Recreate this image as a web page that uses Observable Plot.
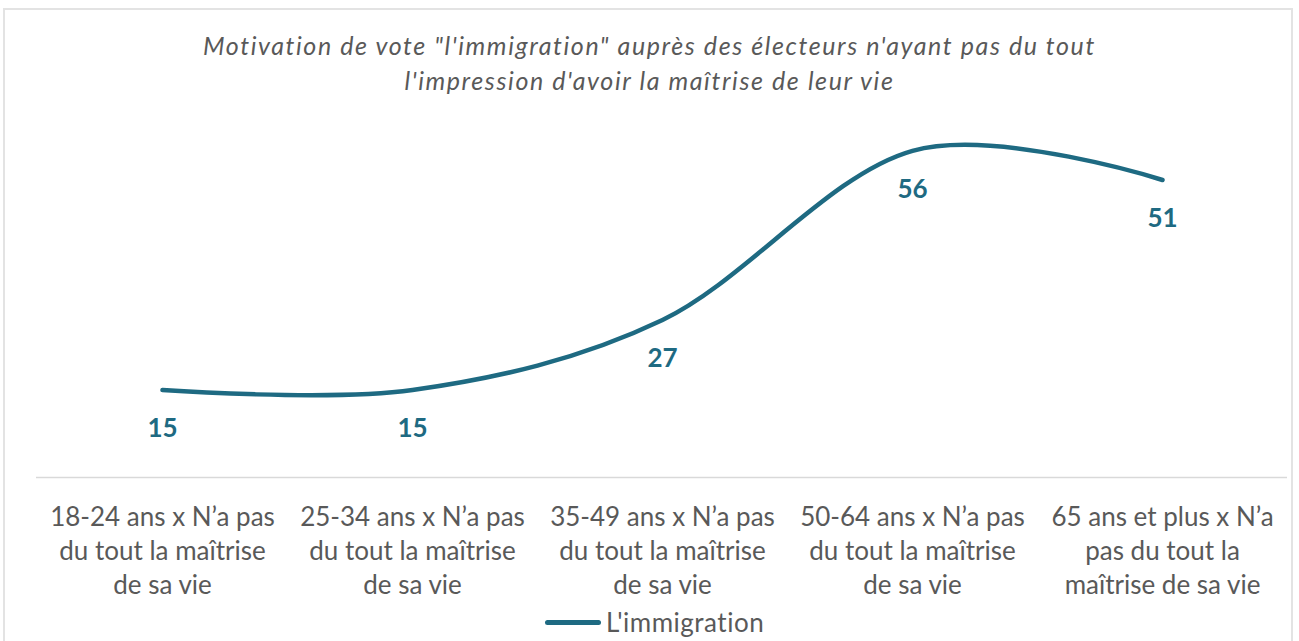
<!DOCTYPE html>
<html>
<head>
<meta charset="utf-8">
<script src="https://cdn.jsdelivr.net/npm/d3@7"></script>
<script src="https://cdn.jsdelivr.net/npm/@observablehq/plot@0.6"></script>
<style>
  html, body { margin: 0; padding: 0; background: #fff; }
  body { width: 1299px; height: 641px; position: relative; overflow: hidden; font-family: Lato, "Open Sans", sans-serif; }
  #frame { position: absolute; left: 3px; top: 8px; width: 1290px; height: 640px; border: 2px solid #e3e3e3; border-bottom: none; box-sizing: border-box; }
  #title { position: absolute; left: 0; top: 28px; width: 1299px; text-align: center; font-style: italic; font-size: 25px; letter-spacing: 1.6px; line-height: 35px; color: #595959; }
  #chart { position: absolute; left: 0; top: 105px; }
  #legend { position: absolute; top: 606px; left: 545px; display: flex; align-items: center; font-size: 26px; letter-spacing: 0.5px; color: #595959; }
  #legend .sw { width: 56px; height: 5px; border-radius: 3px; background: #1e6a82; margin-right: 5px; }
</style>
</head>
<body>
<div id="frame"></div>
<div id="title">Motivation de vote "l'immigration" auprès des électeurs n'ayant pas du tout<br>l'impression d'avoir la maîtrise de leur vie</div>
<div id="chart"></div>
<div id="legend"><span class="sw"></span><span>L'immigration</span></div>
<script>
const categories = ["18-24", "25-34", "35-49", "50-64", "65+"];
const tickLabels = [
  "18-24 ans x N’a pas\ndu tout la maîtrise\nde sa vie",
  "25-34 ans x N’a pas\ndu tout la maîtrise\nde sa vie",
  "35-49 ans x N’a pas\ndu tout la maîtrise\nde sa vie",
  "50-64 ans x N’a pas\ndu tout la maîtrise\nde sa vie",
  "65 ans et plus x N’a\npas du tout la\nmaîtrise de sa vie"
];
const values = [15, 15, 27, 56, 51];
const seriesName = "L'immigration";

const data = categories.map((c, i) => ({cat: c, value: values[i], label: tickLabels[i]}));
const color = "#1e6a82";

const chart = Plot.plot({
  width: 1299,
  height: 536,
  marginLeft: 36,
  marginRight: 12,
  marginTop: 22,
  marginBottom: 164,
  style: {fontFamily: "Lato, 'Open Sans', sans-serif", background: "transparent", overflow: "visible"},
  x: {type: "point", domain: categories, padding: 0.5, axis: null},
  y: {domain: [0, 60], axis: null},
  marks: [
    Plot.ruleY([0], {stroke: "#d9d9d9", strokeWidth: 1.5}),
    Plot.line(data, {x: "cat", y: "value", curve: "cardinal", tension: 0, stroke: color, strokeWidth: 4.5, strokeLinecap: "round"}),
    Plot.text(data, {x: "cat", y: "value", text: d => String(d.value), dy: 39, fill: color, fontWeight: "bold", fontSize: 26}),
    Plot.text(data, {x: "cat", frameAnchor: "bottom", text: "label", lineAnchor: "top", dy: 24, lineHeight: 1.31, fontSize: 26, fill: "#595959"})
  ]
});
document.getElementById("chart").appendChild(chart);
</script>
</body>
</html>
